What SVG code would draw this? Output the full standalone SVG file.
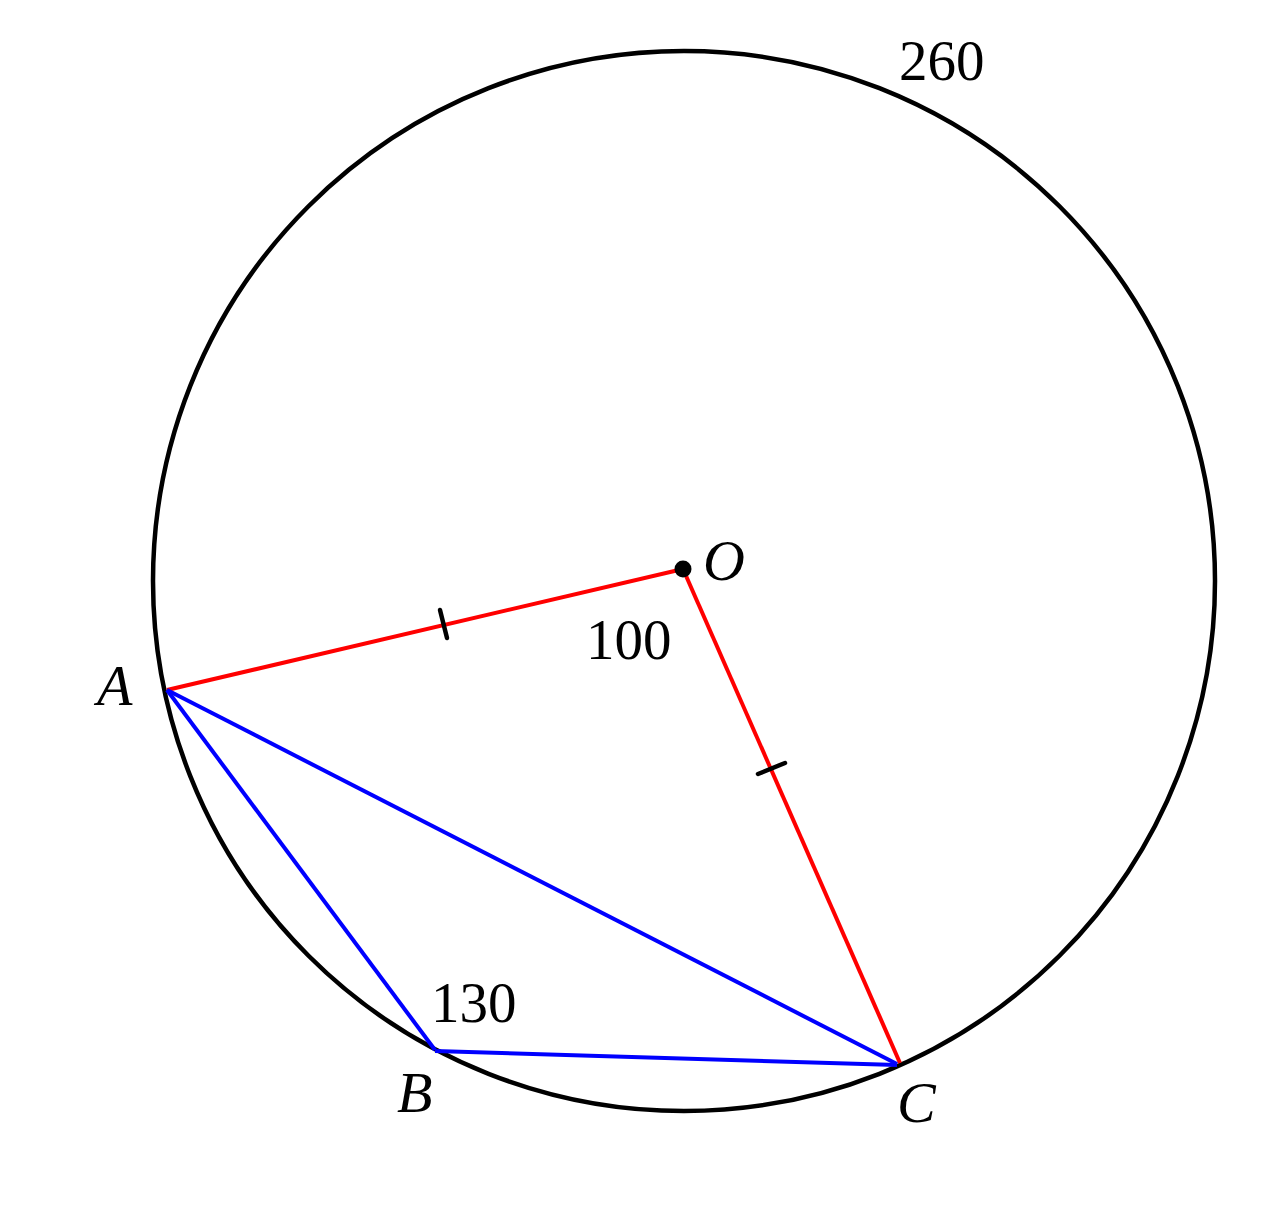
<svg xmlns="http://www.w3.org/2000/svg" width="1280" height="1229" viewBox="0 0 1280 1229">
<style>
.lbl{font-family:"Liberation Serif","DejaVu Serif",serif;font-size:57px;fill:#000}
.it{font-style:italic;font-size:58px}
.red{stroke:#ff0000;stroke-width:4;fill:none}
.blue{stroke:#0000ff;stroke-width:4;fill:none}
.tick{stroke:#000;stroke-width:4.5;stroke-linecap:round}
</style>
<rect width="1280" height="1229" fill="#fff"/>
<g id="circle"><ellipse cx="684" cy="581" rx="531" ry="530" fill="none" stroke="#000" stroke-width="4.5"/></g>
<g id="connectors">
<line class="red" x1="683" y1="569" x2="167" y2="690"/>
<line class="red" x1="683" y1="569" x2="900" y2="1063"/>
<line class="blue" x1="167" y1="690" x2="435" y2="1050"/>
<line class="blue" x1="167" y1="690" x2="897" y2="1064"/>
<line class="blue" x1="435" y1="1051" x2="897" y2="1065"/>
<line class="tick" x1="440" y1="610" x2="447" y2="638"/>
<line class="tick" x1="758" y1="774" x2="785" y2="763"/>
</g>
<g id="O"><circle cx="683" cy="569" r="8.5" fill="#000"/><text class="lbl it" x="703" y="580">O</text></g>
<g id="A"><text class="lbl it" x="97" y="705">A</text></g>
<g id="B"><text class="lbl it" x="397" y="1112">B</text></g>
<g id="C"><text class="lbl it" x="897" y="1122">C</text></g>
<g id="labels">
<text class="lbl" x="899" y="80">260</text>
<text class="lbl" x="586" y="659">100</text>
<text class="lbl" x="431" y="1022">130</text>
</g>
</svg>
